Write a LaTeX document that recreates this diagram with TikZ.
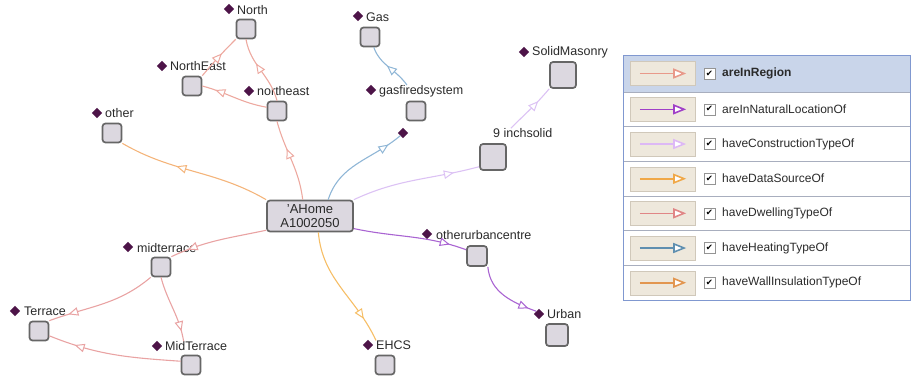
\documentclass[tikz,border=0pt]{standalone}
\usepackage{fontspec}
\setmainfont{Liberation Sans}
\newfontfamily\djv{DejaVu Sans}
\usetikzlibrary{shapes.geometric,arrows.meta,decorations.markings,calc}
\definecolor{boxfill}{HTML}{DCD8E0}
\definecolor{boxline}{HTML}{666666}
\definecolor{diam}{HTML}{4D1448}
\definecolor{txt}{HTML}{2A2A2A}
\definecolor{eRegion}{HTML}{EDA9A0}
\definecolor{eDwell}{HTML}{E9A3A3}
\definecolor{eWall}{HTML}{F4B47A}
\definecolor{eData}{HTML}{F6BE66}
\definecolor{eHeat}{HTML}{8FB6D6}
\definecolor{eConstr}{HTML}{DCC2F4}
\definecolor{eNatural}{HTML}{A964D2}
\definecolor{cRegion}{HTML}{E8998A}
\definecolor{cNatural}{HTML}{A040C8}
\definecolor{cConstr}{HTML}{DDB8F5}
\definecolor{cData}{HTML}{F0A848}
\definecolor{cDwell}{HTML}{E08686}
\definecolor{cHeat}{HTML}{5F8FB0}
\definecolor{cWall}{HTML}{E29650}
\definecolor{legblue}{HTML}{8098D0}
\definecolor{rowsel}{HTML}{C9D5EA}
\definecolor{sep}{HTML}{A8AEBE}
\definecolor{swfill}{HTML}{EEE8DC}
\definecolor{swline}{HTML}{D0C8BA}
\begin{document}
\begin{tikzpicture}[x=1pt,y=-1pt,
  ibox/.style={draw=boxline, fill=boxfill, line width=1.7pt, rounded corners=3pt, minimum size=#1, inner sep=0pt},
  ibox/.default=19pt,
  dia/.style={diamond, fill=diam, minimum size=10.5pt, inner sep=0pt},
  lbl/.style={anchor=west, inner sep=0pt, font=\fontsize{12.5}{14}\selectfont, text=txt},
  edge/.style={line width=1.1pt},
  ea/.style={postaction={decorate}, decoration={markings, mark=at position #1 with {\arrow{Triangle[length=10pt,width=8.5pt,fill=white,line width=1pt]}}}},
  swatch/.style={draw=swline, fill=swfill, minimum width=65pt, minimum height=24pt, inner sep=0pt},
  chkbox/.style={draw=boxline!70, fill=white, minimum size=11pt, inner sep=0pt, font=\djv\fontsize{8.5}{8.5}\selectfont},
  legtxt/.style={anchor=west, inner sep=0pt, font=\fontsize{12}{13}\selectfont, text=txt}
]
\useasboundingbox (0,0) rectangle (915,381);

% ---------- individuals ----------
\node[draw=boxline, fill=boxfill, line width=1.7pt, rounded corners=3pt, minimum width=86pt, minimum height=31pt, inner sep=0pt, align=center, font=\fontsize{13}{13.5}\selectfont, text=txt] (ahome) at (310,216) {'AHome\\A1002050};

\node[ibox] (north) at (246,29) {};
\node[dia] (northD) at (229,9) {};
\node[lbl] (northL) at (237,10) {North};

\node[ibox] (NE) at (192,86) {};
\node[dia] (NED) at (162,66) {};
\node[lbl] (NEL) at (170,66) {NorthEast};

\node[ibox] (ne) at (277,111) {};
\node[dia] (neD) at (249,91) {};
\node[lbl] (neL) at (257,91) {northeast};

\node[ibox] (other) at (112,133) {};
\node[dia] (otherD) at (97,113) {};
\node[lbl] (otherL) at (105,113) {other};

\node[ibox] (mt) at (161,267) {};
\node[dia] (mtD) at (128,247) {};
\node[lbl] (mtL) at (137,248) {midterrace};

\node[ibox] (terrace) at (39,331) {};
\node[dia] (terraceD) at (15,311) {};
\node[lbl] (terraceL) at (24,311) {Terrace};

\node[ibox] (MT) at (191,365) {};
\node[dia] (MTD) at (157,346) {};
\node[lbl] (MTL) at (165,346) {MidTerrace};

\node[ibox] (gas) at (370,37) {};
\node[dia] (gasD) at (358,16) {};
\node[lbl] (gasL) at (366,17) {Gas};

\node[ibox] (gfs) at (416,111) {};
\node[dia] (gfsD) at (371,90) {};
\node[lbl] (gfsL) at (379,91) {gasfiredsystem};

\node[dia] (anon) at (403,133) {};

\node[ibox=26pt] (sm) at (563,75) {};
\node[dia] (smD) at (524,52) {};
\node[lbl] (smL) at (532,52) {SolidMasonry};

\node[ibox=26pt] (nine) at (493,157) {};
\node[lbl] (nineL) at (493,133) {9 inchsolid};

\node[ibox=20pt] (ouc) at (477,256) {};
\node[dia] (oucD) at (427,234) {};
\node[lbl] (oucL) at (436,235) {otherurbancentre};

\node[ibox=22pt] (urban) at (557,335) {};
\node[dia] (urbanD) at (539,314) {};
\node[lbl] (urbanL) at (547,314) {Urban};

\node[ibox] (ehcs) at (385,365) {};
\node[dia] (ehcsD) at (368,345) {};
\node[lbl] (ehcsL) at (376,345) {EHCS};

% ---------- connectors ----------
\draw[edge, eRegion, ea=0.65] (ahome.114) to[out=97,in=-75] (ne.south);
\draw[edge, eRegion, ea=0.62] (ne.north) to[out=105,in=-80] (north.south);
\draw[edge, eRegion, ea=0.8] (ne.160) to[out=170,in=-15] (NE.east);
\draw[edge, eRegion, ea=0.6] (NE.north east) to[out=50,in=-135] (north.south west);
\draw[edge, eWall, ea=0.62] (ahome.north west) to[out=150,in=-30] (other.south east);
\draw[edge, eDwell, ea=0.82] (ahome.198) to[out=192,in=25] (mt.north east);
\draw[edge, eDwell, ea=0.82] (mt.south west) to[out=-140,in=20] (terrace.north east);
\draw[edge, eDwell, ea=0.85] (mt.south) to[out=-75,in=100] ($(MTL.north west)!0.3!(MTL.north east)$);
\draw[edge, eDwell, ea=0.8] (MT.160) to[out=176,in=-22] (terrace.-25);
\draw[edge, eData, ea=0.8] (ahome.-63) to[out=-85,in=115] (ehcsL.north west);
\draw[edge, eHeat, ea=0.85] (ahome.42) to[out=72,in=-140] (anon.south west);
\draw[edge, eHeat, ea=0.55] ($(gfsL.north west)!0.33!(gfsL.north east)$) to[out=125,in=-70] (gas.-70);
\draw[edge, eConstr, ea=0.8] (ahome.north east) to[out=25,in=195] (nine.215);
\draw[edge, eConstr, ea=0.7] ($(nineL.north west)!0.3!(nineL.north east)$) to[out=45,in=-130] (sm.south west);
\draw[edge, eNatural, ea=0.85] (ahome.-16) to[out=-12,in=160] (ouc.150);
\draw[edge, eNatural, ea=0.88] (ouc.-45) to[out=-85,in=160] (urbanD.north west);

% ---------- legend ----------
\fill[rowsel] (623,55) rectangle (910,92);
\foreach \ys in {92,126.7,161.3,196,230.7,265.3}
  \draw[sep, line width=0.8pt] (623,\ys) -- (910,\ys);
\node[draw=legblue, line width=1.3pt, anchor=north west, minimum width=287pt, minimum height=245pt, inner sep=0pt] (legend) at (623,55) {};
\foreach \i/\nm/\col/\yc in {0/{\bfseries areInRegion}/cRegion/73.5,
  1/areInNaturalLocationOf/cNatural/109.3,
  2/haveConstructionTypeOf/cConstr/144,
  3/haveDataSourceOf/cData/178.7,
  4/haveDwellingTypeOf/cDwell/213.3,
  5/haveHeatingTypeOf/cHeat/248,
  6/haveWallInsulationTypeOf/cWall/282.7}{
  \node[swatch] (sw\i) at (662.5,\yc) {};
  \draw[\col, line width=1.6pt, -{Triangle[length=13pt,width=10pt,fill=white]}] ([xshift=10pt]sw\i.west) -- ([xshift=-9pt]sw\i.east);
  \node[chkbox] (cb\i) at (709.5,\yc) {✔};
  \node[legtxt] (lt\i) at (722,\yc) {\nm};
}
\end{tikzpicture}
\end{document}
